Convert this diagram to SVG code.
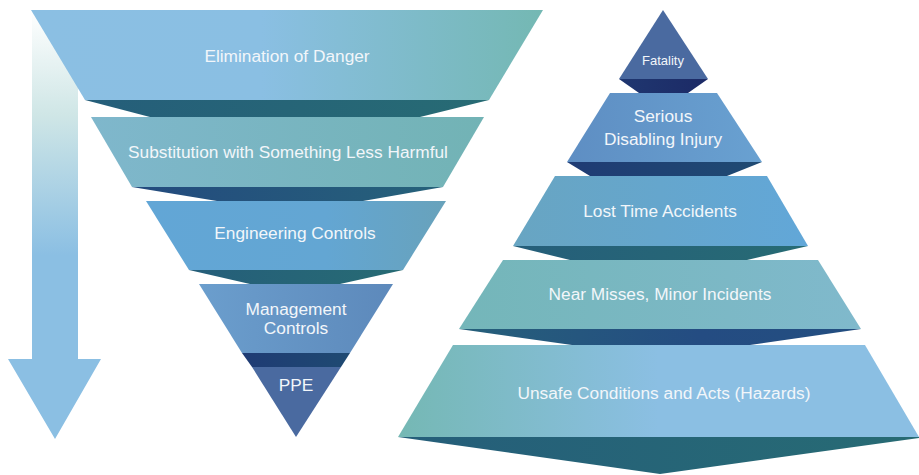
<svg xmlns="http://www.w3.org/2000/svg" width="919" height="475" viewBox="0 0 919 475">
<style>
text{font-family:"Liberation Sans","DejaVu Sans",sans-serif;fill:#f2f6fa;font-size:17.3px;text-anchor:middle}
.sm{font-size:13px}
</style>
<defs>
<linearGradient id="arr" x1="0" y1="10" x2="0" y2="360" gradientUnits="userSpaceOnUse">
<stop offset="0" stop-color="#ffffff"/><stop offset="0.3" stop-color="#cfe6e6"/><stop offset="0.7" stop-color="#8bbfe3"/><stop offset="1" stop-color="#8bbfe3"/></linearGradient>
<linearGradient id="g1" x1="0" x2="1"><stop offset="0" stop-color="#8bbfe3"/><stop offset="0.45" stop-color="#8abfe3"/><stop offset="1" stop-color="#74b8b3"/></linearGradient>
<linearGradient id="g2" x1="0" x2="1"><stop offset="0" stop-color="#7fb7cc"/><stop offset="1" stop-color="#72b3b5"/></linearGradient>
<linearGradient id="g3" x1="0" x2="1"><stop offset="0" stop-color="#62a6d6"/><stop offset="0.6" stop-color="#63a6d3"/><stop offset="1" stop-color="#68a2bb"/></linearGradient>
<linearGradient id="g4" x1="0" x2="1"><stop offset="0" stop-color="#6b9ecd"/><stop offset="1" stop-color="#5d89bb"/></linearGradient>
<linearGradient id="r2" x1="0" x2="1"><stop offset="0" stop-color="#5e8ec3"/><stop offset="1" stop-color="#69a1d1"/></linearGradient>
<linearGradient id="r3" x1="0" x2="1"><stop offset="0" stop-color="#68a5c2"/><stop offset="1" stop-color="#62a7d8"/></linearGradient>
<linearGradient id="r4" x1="0" x2="1"><stop offset="0" stop-color="#74b6b9"/><stop offset="1" stop-color="#80b9cc"/></linearGradient>
<linearGradient id="r5" x1="0" x2="1"><stop offset="0" stop-color="#75b8b4"/><stop offset="0.5" stop-color="#8bbfe3"/><stop offset="1" stop-color="#8bbfe3"/></linearGradient>
<linearGradient id="sT" x1="0" x2="1"><stop offset="0" stop-color="#255e7a"/><stop offset="1" stop-color="#276b74"/></linearGradient>
<linearGradient id="sN" x1="0" x2="1"><stop offset="0" stop-color="#234a7e"/><stop offset="1" stop-color="#26627a"/></linearGradient>
<linearGradient id="sD" x1="0" x2="1"><stop offset="0" stop-color="#1f3b74"/><stop offset="1" stop-color="#1f4a72"/></linearGradient>
<linearGradient id="sR" x1="0" x2="1"><stop offset="0" stop-color="#26607a"/><stop offset="0.6" stop-color="#244c82"/><stop offset="1" stop-color="#234e80"/></linearGradient>
<linearGradient id="sF" x1="0" x2="1"><stop offset="0" stop-color="#1f3770"/><stop offset="1" stop-color="#1c2a66"/></linearGradient>
</defs>

<g id="arrow">
<polygon points="32,10 78,10 78,359 101,359 55,439 8,359 32,359" fill="url(#arr)"/>
</g>

<g id="connectors"></g>

<g id="hierarchy">
<g id="elimination">
<polygon points="85,100 489,100 420,117 150,117" fill="url(#sT)"/>
<polygon points="31,10 543,10 489,100 85,100" fill="url(#g1)"/>
<text x="287" y="62">Elimination of Danger</text>
</g>
<g id="substitution">
<polygon points="132,187 443,187 363,201 217,201" fill="url(#sN)"/>
<polygon points="91,117 484,117 443,187 132,187" fill="url(#g2)"/>
<text x="288" y="158">Substitution with Something Less Harmful</text>
</g>
<g id="engineering">
<polygon points="189,270 403,270 340,284 250,284" fill="url(#sT)"/>
<polygon points="146,201 446,201 403,270 189,270" fill="url(#g3)"/>
<text x="295" y="239">Engineering Controls</text>
</g>
<g id="management">
<polygon points="242,353 350,353 341,367 252,367" fill="url(#sD)"/>
<polygon points="199,284 393,284 350,353 242,353" fill="url(#g4)"/>
<text x="296" y="315">Management</text>
<text x="296" y="334">Controls</text>
</g>
<g id="ppe">
<polygon points="252,367 341,367 296,437" fill="#4a6aa0"/>
<text x="296" y="391">PPE</text>
</g>
</g>

<g id="pyramid">
<g id="fatality">
<polygon points="619,79 708,79 688,93 639,93" fill="url(#sF)"/>
<polygon points="663,10 708,79 619,79" fill="#4a6aa0"/>
<text class="sm" x="663" y="65">Fatality</text>
</g>
<g id="serious">
<polygon points="567,162 762,162 727,176 590,176" fill="url(#sD)"/>
<polygon points="610,93 717,93 762,162 567,162" fill="url(#r2)"/>
<text x="663" y="122">Serious</text>
<text x="663" y="145">Disabling Injury</text>
</g>
<g id="losttime">
<polygon points="513,246 808,246 747,260 570,260" fill="url(#sT)"/>
<polygon points="555,176 767,176 808,246 513,246" fill="url(#r3)"/>
<text x="660" y="217">Lost Time Accidents</text>
</g>
<g id="nearmiss">
<polygon points="459,329 861,329 750,345 572,345" fill="url(#sR)"/>
<polygon points="503,260 818,260 861,329 459,329" fill="url(#r4)"/>
<text x="660" y="300">Near Misses, Minor Incidents</text>
</g>
<g id="unsafe">
<polygon points="398,437 919,437 919,438 660,474" fill="url(#sT)"/>
<polygon points="453,345 865,345 919,437 398,437" fill="url(#r5)"/>
<text x="664" y="399">Unsafe Conditions and Acts (Hazards)</text>
</g>
</g>
</svg>
